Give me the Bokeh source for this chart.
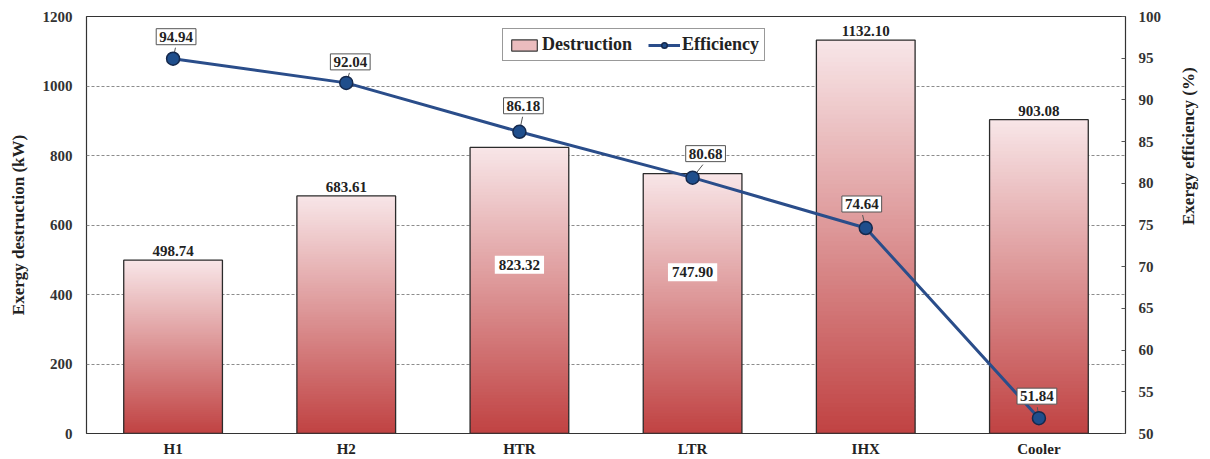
import math
import numpy as np
from bokeh.plotting import figure
from bokeh.models import (Range1d, LinearAxis, Label, Legend, LegendItem,
                          ColumnDataSource, FixedTicker)
from bokeh.embed import file_html
from bokeh.resources import INLINE

# ---------------- data ----------------
categories = ["H1", "H2", "HTR", "LTR", "IHX", "Cooler"]
destruction = [498.74, 683.61, 823.32, 747.90, 1132.10, 903.08]
efficiency = [94.94, 92.04, 86.18, 80.68, 74.64, 51.84]
left_ticks = [0, 200, 400, 600, 800, 1000, 1200]
right_ticks = [50, 55, 60, 65, 70, 75, 80, 85, 90, 95, 100]

# ---------------- styling ----------------
FONT = "Liberation Serif"
W, H = 1210, 459
FL, FR, FT, FB = 86, 1134, 16, 433   # target frame edges (px)
BAR_W = 0.57
TOP_RGB = (248, 230, 232)
BOT_RGB = (192, 66, 66)
LINE_COL = "#2a4d8a"
MARK_FILL = "#1f4e8c"
MARK_LINE = "#15294d"
inside_frac = [None, None, 0.59, 0.62, None, None]
eff_off = [(3, 22), (4, 21), (4, 26), (13, 24), (-4, 24), (-2, 22)]

p = figure(width=W, height=H, x_range=categories, y_range=Range1d(0, 1200),
           output_backend="svg", toolbar_location=None,
           min_border_left=FL, min_border_right=W - FR, min_border_top=FT,
           min_border_bottom=H - FB, background_fill_color="white",
           border_fill_color="white")
p.extra_y_ranges = {"eff": Range1d(50, 100)}
p.outline_line_color = "#333333"
p.outline_line_width = 1.2

# ---------------- gradient bars ----------------
N = 90
xs, bots, tops, cols = [], [], [], []
for c, v in zip(categories, destruction):
    for i in range(N):
        t = (i + 0.5) / N
        r = round(BOT_RGB[0] + (TOP_RGB[0] - BOT_RGB[0]) * t)
        g = round(BOT_RGB[1] + (TOP_RGB[1] - BOT_RGB[1]) * t)
        b = round(BOT_RGB[2] + (TOP_RGB[2] - BOT_RGB[2]) * t)
        xs.append(c)
        bots.append(v * i / N)
        tops.append(min(v, v * (i + 1.6) / N))
        cols.append("#%02x%02x%02x" % (r, g, b))
src = ColumnDataSource(dict(x=xs, bottom=bots, top=tops, color=cols))
p.vbar(x="x", bottom="bottom", top="top", width=BAR_W, fill_color="color",
       line_color=None, source=src)
p.vbar(x=categories, top=destruction, width=BAR_W, fill_color=None,
       line_color="#2b2b2b", line_width=1.3)
legend_bar = p.vbar(x=[categories[0]], top=[0], width=BAR_W,
                    fill_color="#ebbcbe", line_color="#3a3a3a", line_width=1.2)

# ---------------- grid & axes ----------------
p.xgrid.grid_line_color = None
p.ygrid.ticker = FixedTicker(ticks=[t for t in left_ticks if 0 < t < 1200])
p.ygrid.grid_line_color = "#8c8c8c"
p.ygrid.grid_line_dash = "3 2"
p.ygrid.grid_line_width = 1


def style_axis(ax, size="15px"):
    ax.major_label_text_font = FONT
    ax.major_label_text_font_style = "bold"
    ax.major_label_text_font_size = size
    ax.major_label_text_color = "#333333"
    ax.axis_label_text_font = FONT
    ax.axis_label_text_font_style = "bold"
    ax.axis_label_text_font_size = "17px"
    ax.axis_label_text_color = "#222222"
    ax.minor_tick_line_color = None
    ax.minor_tick_in = 0
    ax.minor_tick_out = 0
    ax.axis_line_color = None


ya = p.yaxis[0]
style_axis(ya)
ya.ticker = FixedTicker(ticks=left_ticks)
ya.axis_label = "Exergy destruction (kW)"
ya.axis_label_standoff = 12
ya.major_label_standoff = 14
ya.major_tick_line_color = None
ya.major_tick_in = 0
ya.major_tick_out = 0

ra = LinearAxis(y_range_name="eff", ticker=FixedTicker(ticks=right_ticks))
style_axis(ra)
ra.axis_label = "Exergy efficiency (%)"
ra.axis_label_orientation = math.pi / 2
ra.axis_label_standoff = 24
ra.major_label_standoff = 13
ra.major_tick_in = 4
ra.major_tick_out = 0
ra.major_tick_line_color = "#555555"
p.add_layout(ra, "right")

xa = p.xaxis[0]
style_axis(xa)
xa.major_label_text_color = "#222222"
xa.major_label_standoff = 7
xa.major_tick_line_color = None
xa.major_tick_in = 0
xa.major_tick_out = 0

# ---------------- destruction value labels ----------------
for i, (v, fr) in enumerate(zip(destruction, inside_frac)):
    if fr is None:
        lab = Label(x=i + 0.5, y=v, text=f"{v:.2f}", y_offset=4,
                    text_align="center", text_baseline="bottom",
                    text_font=FONT, text_font_style="bold",
                    text_font_size="15px", text_color="#222222")
    else:
        lab = Label(x=i + 0.5, y=v * fr, text=f"{v:.2f}",
                    text_align="center", text_baseline="middle",
                    text_font=FONT, text_font_style="bold",
                    text_font_size="15px", text_color="#222222",
                    background_fill_color="white", padding=4)
    p.add_layout(lab)

# ---------------- efficiency line ----------------
PX_X = (FR - FL) / len(categories)
PX_Y = (FB - FT) / 50.0
xn = np.arange(len(categories)) + 0.5
lx0, ly0, lx1, ly1 = [], [], [], []
for i, e in enumerate(efficiency):
    dx, dy = eff_off[i]
    lx0.append(xn[i]); ly0.append(e)
    lx1.append(xn[i] + dx * 0.8 / PX_X); ly1.append(e + (dy - 11) / PX_Y)
p.segment(x0=lx0, y0=ly0, x1=lx1, y1=ly1, y_range_name="eff",
          line_color="#555555", line_width=1)

eff_line = p.line(x=categories, y=efficiency, y_range_name="eff",
                  line_color=LINE_COL, line_width=3)
eff_pts = p.scatter(x=categories, y=efficiency, y_range_name="eff",
                    marker="circle", size=13, fill_color=MARK_FILL,
                    line_color=MARK_LINE, line_width=1.5)

for i, e in enumerate(efficiency):
    dx, dy = eff_off[i]
    p.add_layout(Label(x=xn[i], y=e, y_range_name="eff", text=f"{e:.2f}",
                       x_offset=dx, y_offset=dy, text_align="center",
                       text_baseline="middle", text_font=FONT,
                       text_font_style="bold", text_font_size="15px",
                       text_color="#222222", background_fill_color="white",
                       border_line_color="#555555", border_line_width=1,
                       padding=3))

# ---------------- legend ----------------
legend = Legend(items=[LegendItem(label="Destruction", renderers=[legend_bar]),
                       LegendItem(label="Efficiency", renderers=[eff_line, eff_pts])],
                orientation="horizontal", location=(416, FB - 61),
                border_line_color="#333333", border_line_width=1.2,
                label_text_font=FONT, label_text_font_style="bold",
                label_text_font_size="18px", label_text_color="#222222",
                glyph_width=32, glyph_height=14, spacing=16, padding=5,
                margin=0, label_standoff=2, background_fill_alpha=1)
p.add_layout(legend)

open("out.html", "w").write(file_html(p, INLINE))
